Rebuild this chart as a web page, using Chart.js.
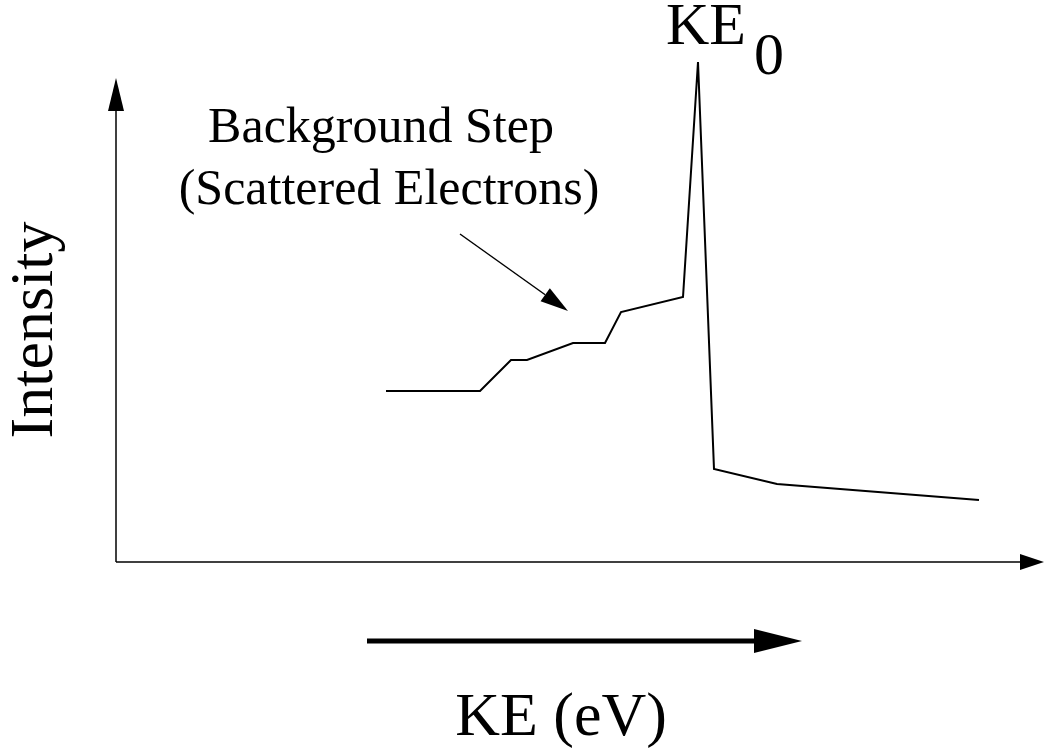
<!DOCTYPE html>
<html>
<head>
<meta charset="utf-8">
<script src="https://cdn.jsdelivr.net/npm/chart.js@4/dist/chart.umd.min.js"></script>
<style>
  html, body { margin: 0; padding: 0; background: #fff; }
  #spettro { display: block; }
</style>
</head>
<body>
<canvas id="spettro" width="1044" height="748"></canvas>
<script>
// energia cinetica (unita' arbitrarie) e intensita' dello spettro
const energia = [270, 364, 395, 411, 457, 489, 505, 567, 582, 598, 661, 863];
const intensita = [171, 171, 202, 202, 219, 219, 250, 265, 500, 93, 78, 62];
const limitiX = [0, 928];
const limitiY = [0, 502];

const etichettaX = 'KE (eV)';
const etichettaY = 'Intensity';
const notaSfondo = ['Background Step', '(Scattered Electrons)'];
const notaPicco = ['KE', '0'];

const FONT = '"Liberation Serif", "Times New Roman", serif';

function freccia(ctx, x1, y1, x2, y2, lungh, larg, spessore) {
    const ang = Math.atan2(y2 - y1, x2 - x1);
    const bx = x2 - lungh * Math.cos(ang);
    const by = y2 - lungh * Math.sin(ang);
    ctx.beginPath();
    ctx.lineWidth = spessore;
    ctx.moveTo(x1, y1);
    ctx.lineTo(bx, by);
    ctx.stroke();
    ctx.beginPath();
    ctx.moveTo(x2, y2);
    ctx.lineTo(bx + larg * Math.sin(ang), by - larg * Math.cos(ang));
    ctx.lineTo(bx - larg * Math.sin(ang), by + larg * Math.cos(ang));
    ctx.closePath();
    ctx.fill();
}

const disegnoSchema = {
    id: 'disegnoSchema',
    afterDraw(chart) {
        const ctx = chart.ctx;
        const sx = chart.scales.x, sy = chart.scales.y;
        const x0 = sx.getPixelForValue(limitiX[0]);
        const y0 = sy.getPixelForValue(limitiY[0]);
        ctx.save();
        ctx.strokeStyle = '#000';
        ctx.fillStyle = '#000';

        // assi con frecce
        freccia(ctx, x0, y0, x0, 78, 33, 8, 1.5);
        freccia(ctx, x0, y0, 1044, y0, 24, 8, 1.5);

        // freccia della nota sullo sfondo
        const iNota = 5;
        freccia(ctx, 460, 234, sx.getPixelForValue(energia[iNota]) - 37, sy.getPixelForValue(intensita[iNota]) - 32, 28, 8, 1.5);

        // freccia dell'energia crescente
        freccia(ctx, 367, 641, 802, 641, 48, 12, 5);

        ctx.textAlign = 'center';
        ctx.textBaseline = 'middle';
        ctx.font = '50px ' + FONT;
        ctx.fillText(notaSfondo[0], 381, 129);
        ctx.fillText(notaSfondo[1], 389, 191);

        ctx.textBaseline = 'alphabetic';
        ctx.font = '62px ' + FONT;
        ctx.fillText(etichettaX, 561, 735);

        ctx.save();
        ctx.translate(52, 330);
        ctx.rotate(-Math.PI / 2);
        ctx.fillText(etichettaY, 0, 0);
        ctx.restore();

        // etichetta del picco
        ctx.textBaseline = 'middle';
        const iPicco = intensita.indexOf(Math.max(...intensita));
        const px = sx.getPixelForValue(energia[iPicco]);
        ctx.font = '60px ' + FONT;
        ctx.textAlign = 'right';
        ctx.fillText(notaPicco[0], px + 48, 28);
        ctx.textAlign = 'left';
        ctx.fillText(notaPicco[1], px + 56, 58);
        ctx.restore();
    }
};

new Chart(document.getElementById('spettro'), {
    type: 'line',
    data: {
        datasets: [{
            data: energia.map((e, i) => ({ x: e, y: intensita[i] })),
            borderColor: '#000',
            borderWidth: 2,
            pointRadius: 0,
            tension: 0,
            fill: false
        }]
    },
    options: {
        responsive: false,
        animation: false,
        events: [],
        layout: { padding: { left: 116, top: 60, right: 0, bottom: 186 } },
        plugins: { legend: { display: false }, tooltip: { enabled: false } },
        scales: {
            x: { type: 'linear', min: limitiX[0], max: limitiX[1], display: false },
            y: { type: 'linear', min: limitiY[0], max: limitiY[1], display: false }
        }
    },
    plugins: [disegnoSchema]
});
</script>
</body>
</html>
